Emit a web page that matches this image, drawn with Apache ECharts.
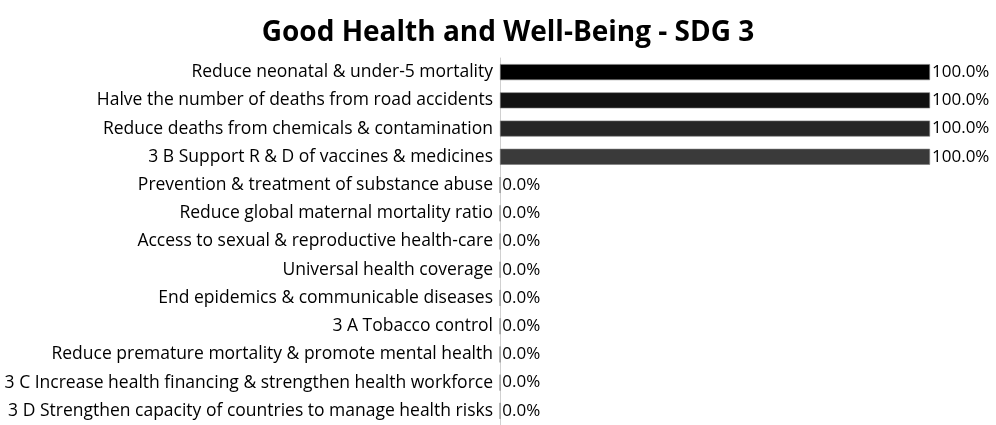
<!DOCTYPE html>
<html><head><meta charset="utf-8">
<script src="https://cdn.jsdelivr.net/npm/echarts@6/dist/echarts.min.js"></script>
<style>html,body{margin:0;padding:0;background:#fff}#c{width:996px;height:425px}</style>
</head><body><div id="c"></div>
<script>
const titleText = 'Good Health and Well-Being - SDG 3';
const categories = [
  'Reduce neonatal & under-5 mortality',
  'Halve the number of deaths from road accidents',
  'Reduce deaths from chemicals & contamination',
  '3 B Support R & D of vaccines & medicines',
  'Prevention & treatment of substance abuse',
  'Reduce global maternal mortality ratio',
  'Access to sexual & reproductive health-care',
  'Universal health coverage',
  'End epidemics & communicable diseases',
  '3 A Tobacco control',
  'Reduce premature mortality & promote mental health',
  '3 C Increase health financing & strengthen health workforce',
  '3 D Strengthen capacity of countries to manage health risks'
];
const values = [100, 100, 100, 100, 0, 0, 0, 0, 0, 0, 0, 0, 0];
const barColors = ['#000000', '#111111', '#262626', '#3a3a3a', '#444', '#444', '#444', '#444', '#444', '#444', '#444', '#444', '#444'];

const chart = echarts.init(document.getElementById('c'), null, {renderer: 'canvas'});
chart.setOption({
  animation: false,
  title: {
    text: titleText, left: 503, top: 14, textAlign: 'center',
    textStyle: {fontFamily: '"Open Sans"', fontWeight: 'bold', fontSize: 28, color: '#000'}
  },
  grid: {left: 500, right: 66, top: 58, height: 370, containLabel: false},
  xAxis: {type: 'value', min: 0, max: 100, show: false},
  yAxis: {
    type: 'category', data: categories, inverse: true,
    axisLine: {show: true, lineStyle: {color: '#d0d0d0', width: 1}},
    axisTick: {show: false},
    axisLabel: {fontFamily: '"Open Sans"', fontSize: 17.5, color: '#000', margin: 7}
  },
  series: [{
    type: 'bar', barWidth: 16,
    data: values.map((v, i) => ({value: v, itemStyle: {color: barColors[i]}})),
    itemStyle: {borderColor: '#7a7a7a', borderWidth: 0.6},
    label: {
      show: true, position: 'right', distance: 2,
      fontFamily: '"Open Sans"', fontSize: 17, color: '#000',
      formatter: p => p.value.toFixed(1) + '%'
    }
  }]
});
</script></body></html>
